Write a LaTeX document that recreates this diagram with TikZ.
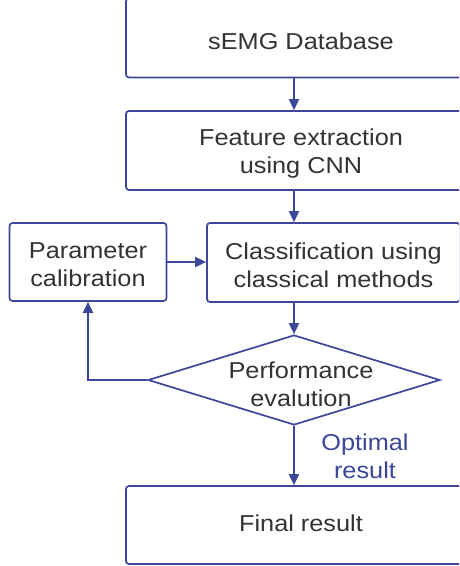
\documentclass[tikz,border=0pt]{standalone}
\usepackage{fontspec}
\setmainfont{Liberation Sans}[FakeStretch=1.1]
\usetikzlibrary{arrows.meta,shapes.geometric}
\definecolor{lineblue}{HTML}{3C479A}
\definecolor{txt}{HTML}{333333}
\tikzset{
  box/.style={draw=lineblue, line width=1.7pt, rounded corners=3pt, inner sep=0pt},
  conn/.style={draw=lineblue, line width=1.8pt, -{Triangle[length=11pt,width=10pt]}},
  lbl/.style={text=txt, align=center, inner sep=0pt, font=\fontsize{23}{28}\selectfont},
}
\begin{document}
\begin{tikzpicture}[x=1pt,y=-1pt]
\clip (0,0) rectangle (459,566);
\fill[white] (0,0) rectangle (459,566);
\node[box, minimum width=350pt, minimum height=79pt] (db) at (301,38) {};
\node[lbl] (dbt) at (301,41) {sEMG Database};
\node[box, minimum width=350pt, minimum height=79pt] (fe) at (301,150.5) {};
\node[lbl] (fet) at (301,154) {Feature extraction\\using CNN};
\node[box, minimum width=253pt, minimum height=79pt] (cl) at (333.5,262.5) {};
\node[lbl] (clt) at (333.5,265.5) {Classification using\\classical methods};
\node[box, minimum width=157pt, minimum height=78pt] (pc) at (88,262) {};
\node[lbl] (pct) at (88,265) {Parameter\\calibration};
\node[draw=lineblue, line width=1.7pt, diamond, inner sep=0pt, minimum width=292pt, minimum height=90pt] (pe) at (294,380) {};
\node[lbl] (pet) at (301,384) {Performance\\evalution};
\node[box, minimum width=350pt, minimum height=78pt] (fr) at (301,525) {};
\node[lbl] (frt) at (301,523) {Final result};
\node[lbl, text=lineblue] (opt) at (365,456) {Optimal\\result};
\coordinate (c1) at (294,0);
\draw[conn] (db.south -| c1) -- (fe.north -| c1);
\draw[conn] (fe.south -| c1) -- (cl.north -| c1);
\draw[conn] (cl.south -| c1) -- (pe.north);
\draw[conn] (pe.south) -- (fr.north -| pe.south);
\draw[conn] (pc.east) -- (pc.east -| cl.west);
\draw[conn] (pe.west) -| (pc.south);
\end{tikzpicture}
\end{document}
